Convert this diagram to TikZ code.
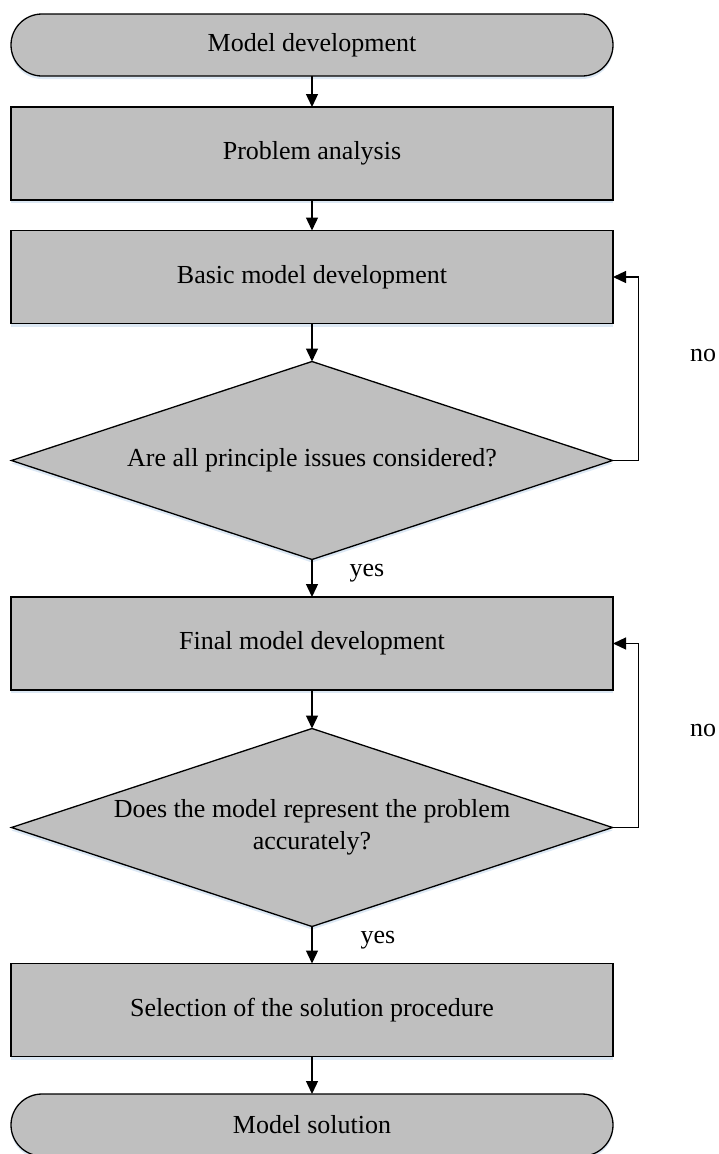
\documentclass[tikz,border=0pt]{standalone}
\usepackage{fontspec}
\setmainfont{Liberation Serif}
\usetikzlibrary{shapes.geometric,arrows.meta,shadows}
\definecolor{boxgray}{RGB}{191,191,191}
\definecolor{glow}{RGB}{205,222,240}
\begin{document}
\begin{tikzpicture}[x=1pt,y=-1pt,
  every node/.style={font=\fontsize{26}{32}\selectfont},
  base/.style={draw=black, line width=1.3pt, fill=boxgray, inner sep=0pt, outer sep=0pt,
    drop shadow={shadow xshift=0pt, shadow yshift=-3pt, fill=glow, opacity=0.7}},
  proc/.style={base, rectangle, minimum width=602pt, minimum height=93pt},
  term/.style={base, rectangle, rounded corners=31pt, minimum width=602pt, minimum height=62pt},
  decision/.style={base, diamond, minimum width=601pt, minimum height=198pt},
  qtext/.style={align=center, inner sep=0pt},
  flow/.style={line width=1.3pt, -{Triangle[length=13pt,width=12pt]}},
  lbl/.style={inner sep=0pt}
]
\useasboundingbox (0,0) rectangle (718,1154);
\clip (0,0) rectangle (718,1154);

% main column
\node[term] (t1) at (312,45) {Model development};
\node[proc] (pa) at (312,153.5) {Problem analysis};
\node[proc] (bm) at (312,277) {Basic model development};
\node[decision] (d1) at (312,460.5) {};
\node[qtext] (q1) at (d1.center) {Are all principle issues considered?};
\node[proc] (fm) at (312,643.5) {Final model development};
\node[decision] (d2) at (312,827.5) {};
\node[qtext] (q2) at (d2.center) {Does the model represent the problem\\accurately?};
\node[proc] (sp) at (312,1010) {Selection of the solution procedure};
\node[term] (t2) at (312,1125) {Model solution};

% branch labels
\node[lbl] (y1) at (367,573) {yes};
\node[lbl] (y2) at (378,940) {yes};
\node[lbl] (n1) at (703,355) {no};
\node[lbl] (n2) at (703,730) {no};

% connectors
\draw[flow] (t1) -- (pa);
\draw[flow] (pa) -- (bm);
\draw[flow] (bm) -- (d1);
\draw[flow] (d1) -- (fm);
\draw[flow] (fm) -- (d2);
\draw[flow] (d2) -- (sp);
\draw[flow] (sp) -- (t2);

% feedback loops
\draw[flow] (d1.east) -- ++(26,0) |- (bm.east);
\draw[flow] (d2.east) -- ++(26,0) |- (fm.east);
\end{tikzpicture}
\end{document}
